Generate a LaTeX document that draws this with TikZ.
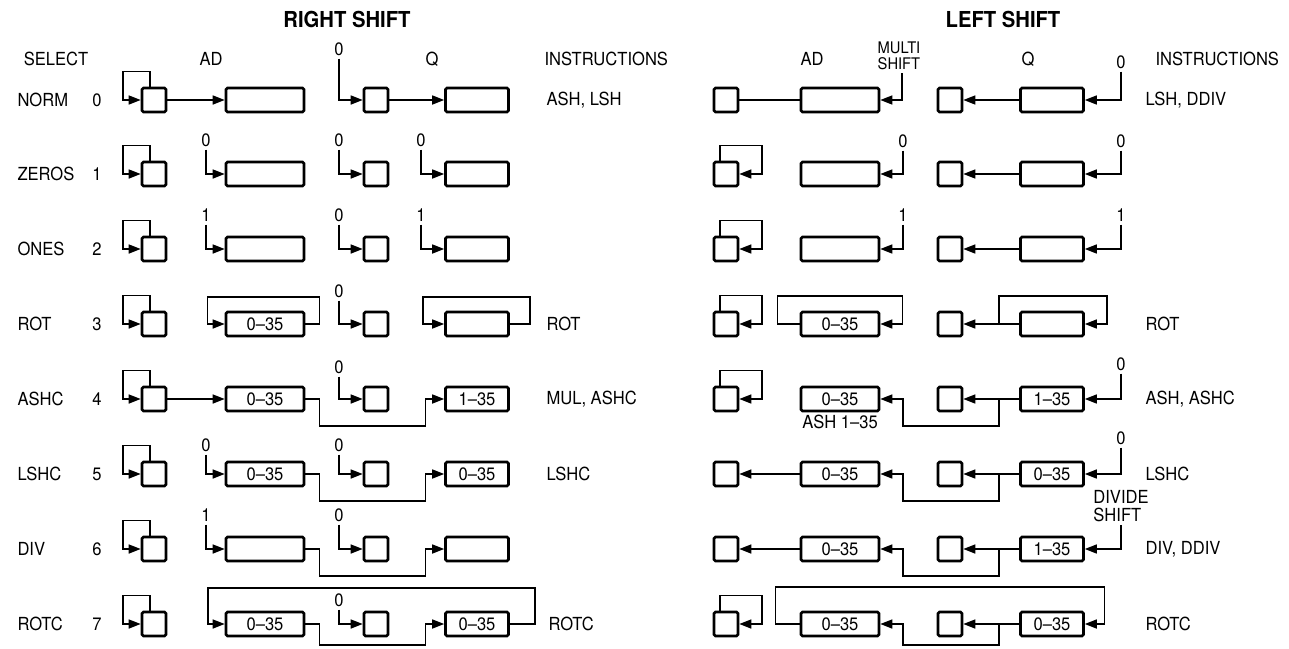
\documentclass[tikz,border=0pt]{standalone}
\usepackage{fontspec}
\setmainfont{TeX Gyre Heros}[FakeStretch=0.92]
\usetikzlibrary{arrows.meta}

\begin{document}
\begin{tikzpicture}[x=1pt,y=-1pt,>={Triangle[length=12pt,width=9pt]},
  every node/.style={font=\fontsize{18}{18}\selectfont},
  reg/.style={draw,line width=2.6pt,rounded corners=1.5pt,minimum width=78pt,minimum height=24pt,inner sep=0pt},
  qreg/.style={reg,minimum width=63pt},
  bit/.style={reg,minimum width=24pt},
  lbl/.style={inner sep=3pt},
  ttl/.style={font=\fontsize{22}{24}\selectfont\bfseries},
  wire/.style={line width=1.5pt}]
\useasboundingbox (0,0) rectangle (1289,648);
\node[ttl] (rtitle) at (347,19) {RIGHT SHIFT};
\node[ttl] (ltitle) at (1003,19) {LEFT SHIFT};
\node (hsel) at (56,59) {SELECT}; \node (hrad) at (211,59) {AD}; \node (hrq) at (432,59) {Q};
\node[anchor=west] (hrins) at (541,59) {INSTRUCTIONS};
\node (hlad) at (812,59) {AD}; \node (hlq) at (1028,59) {Q};
\node[anchor=west] (hlins) at (1152,59) {INSTRUCTIONS};
\node[lbl,align=left,font=\fontsize{16}{16}\selectfont] (multi) at (899,56) {MULTI\\SHIFT};

\foreach \i/\sel/\ry/\zy in {0/NORM/100/49,1/ZEROS/174/140,2/ONES/249/215,3/ROT/324/291,4/ASHC/399/367,5/LSHC/474/445,6/DIV/549/515,7/ROTC/624/600}{
  \node[anchor=west] (sel\i) at (14,\ry) {\sel};
  \node (num\i) at (97,\ry) {\i};
  \node[bit] (rx\i) at (154,\ry) {};
  \node[bit] (rqb\i) at (376,\ry) {};
  \node[lbl] (rz\i) at (339,\zy) {0};
  \node[bit] (lx\i) at (726,\ry) {};
  \node[bit] (lqb\i) at (950,\ry) {};
  \draw[wire,->] ([xshift=-4pt]rx\i.north) |- ++(-27,-15) |- (rx\i.west);
  \draw[wire,->] (rz\i) |- (rqb\i);
}
\foreach \i in {1,2,3,4,7}{\draw[wire,->] ([xshift=-6pt]lx\i.north) |- ++(42,-15) |- (lx\i.east);}

\node[reg] (rad0) at (265,100) {}; \node[qreg] (rq0) at (477,100) {};
\draw[wire,->] (rx0)--(rad0); \draw[wire,->] (rqb0)--(rq0);
\node[anchor=west] (rins0) at (543,100) {ASH, LSH};

\node[reg] (rad1) at (265,174) {}; \node[qreg] (rq1) at (477,174) {};
\node[lbl] (ra1) at (206,140) {0}; \node[lbl] (rc1) at (421,140) {0};
\draw[wire,->] (ra1) |- (rad1); \draw[wire,->] (rc1) |- (rq1);

\node[reg] (rad2) at (265,249) {}; \node[qreg] (rq2) at (477,249) {};
\node[lbl] (ra2) at (206,215) {1}; \node[lbl] (rc2) at (421,215) {1};
\draw[wire,->] (ra2) |- (rad2); \draw[wire,->] (rc2) |- (rq2);

\node[reg] (rad3) at (265,324) {0--35}; \node[qreg] (rq3) at (477,324) {};
\draw[wire,->] (rad3.east) -- ++(14,0) |- ++(-112,-27) |- (rad3.west);
\draw[wire,->] (rq3.east) -- ++(20,0) |- ++(-107,-27) |- (rq3.west);
\node[anchor=west] (rins3) at (543,324) {ROT};

\node[reg] (rad4) at (265,399) {0--35}; \node[qreg] (rq4) at (477,399) {1--35};
\draw[wire,->] (rx4)--(rad4);
\draw[wire,->] (rad4.east) -- ++(14,0) |- ++(106,27) |- (rq4.west);
\node[anchor=west] (rins4) at (543,399) {MUL, ASHC};

\node[reg] (rad5) at (265,474) {0--35}; \node[qreg] (rq5) at (477,474) {0--35};
\node[lbl] (ra5) at (206,445) {0};
\draw[wire,->] (ra5) |- (rad5);
\draw[wire,->] (rad5.east) -- ++(14,0) |- ++(106,27) |- (rq5.west);
\node[anchor=west] (rins5) at (543,474) {LSHC};

\node[reg] (rad6) at (265,549) {}; \node[qreg] (rq6) at (477,549) {};
\node[lbl] (ra6) at (206,515) {1};
\draw[wire,->] (ra6) |- (rad6);
\draw[wire,->] (rad6.east) -- ++(14,0) |- ++(106,27) |- (rq6.west);

\node[reg] (rad7) at (265,624) {0--35}; \node[qreg] (rq7) at (477,624) {0--35};
\draw[wire,->] (rq7.east) -- ++(25,0) |- ++(-327,-36) |- (rad7.west);
\draw[wire,->] (rad7.east) -- ++(14,0) |- ++(106,21) |- (rq7.west);
\node[anchor=west] (rins7) at (545,624) {ROTC};

\node[reg] (lad0) at (840,100) {}; \node[qreg] (lq0) at (1052,100) {};
\node[lbl] (lc0) at (1121,62) {0};
\draw[wire] (lx0)--(lad0); \draw[wire,->] ([xshift=3pt]multi.south) |- (lad0.east);
\draw[wire,->] (lq0)--(lqb0); \draw[wire,->] (lc0) |- (lq0);
\node[anchor=west] (lins0) at (1142,100) {LSH, DDIV};

\node[reg] (lad1) at (840,174) {}; \node[qreg] (lq1) at (1052,174) {};
\node[lbl] (la1) at (903,141) {0}; \node[lbl] (lc1) at (1121,141) {0};
\draw[wire,->] (la1) |- (lad1); \draw[wire,->] (lq1)--(lqb1); \draw[wire,->] (lc1) |- (lq1);

\node[reg] (lad2) at (840,249) {}; \node[qreg] (lq2) at (1052,249) {};
\node[lbl] (la2) at (903,215) {1}; \node[lbl] (lc2) at (1121,215) {1};
\draw[wire,->] (la2) |- (lad2); \draw[wire,->] (lq2)--(lqb2); \draw[wire,->] (lc2) |- (lq2);

\node[reg] (lad3) at (840,324) {0--35}; \node[qreg] (lq3) at (1052,324) {};
\draw[wire,->] (lad3.west) -- ++(-22,0) |- ++(125,-28) |- (lad3.east);
\draw[wire,->] (lq3)--(lqb3);
\draw[wire,->] ([xshift=-20pt]lq3.west) |- ++(108,-28) |- (lq3.east);
\node[anchor=west] (lins3) at (1142,324) {ROT};

\node[reg] (lad4) at (840,399) {0--35}; \node[qreg] (lq4) at (1052,399) {1--35};
\node (lash) at (840,422) {ASH 1--35};
\node[lbl] (lc4) at (1121,364) {0};
\draw[wire,->] (lq4)--(lqb4); \draw[wire,->] (lc4) |- (lq4);
\draw[wire,->] ([xshift=-20pt]lq4.west) |- ++(-96,27) |- (lad4.east);
\node[anchor=west] (lins4) at (1142,399) {ASH, ASHC};

\node[reg] (lad5) at (840,474) {0--35}; \node[qreg] (lq5) at (1052,474) {0--35};
\node[lbl] (lc5) at (1121,438) {0};
\draw[wire,->] (lad5)--(lx5);
\draw[wire,->] (lq5)--(lqb5); \draw[wire,->] (lc5) |- (lq5);
\draw[wire,->] ([xshift=-20pt]lq5.west) |- ++(-96,27) |- (lad5.east);
\node[anchor=west] (lins5) at (1142,474) {LSHC};

\node[reg] (lad6) at (840,549) {0--35}; \node[qreg] (lq6) at (1052,549) {1--35};
\node[lbl,align=left] (divsh) at (1121,506) {DIVIDE\\SHIFT};
\draw[wire,->] (lad6)--(lx6);
\draw[wire,->] (lq6)--(lqb6); \draw[wire,->] (divsh.south) |- (lq6.east);
\draw[wire,->] ([xshift=-20pt]lq6.west) |- ++(-96,27) |- (lad6.east);
\node[anchor=west] (lins6) at (1142,549) {DIV, DDIV};

\node[reg] (lad7) at (840,624) {0--35}; \node[qreg] (lq7) at (1052,624) {0--35};
\draw[wire,->] (lad7.west) -- ++(-24,0) |- ++(329,-37) |- (lq7.east);
\draw[wire,->] (lq7)--(lqb7);
\draw[wire,->] ([xshift=-20pt]lq7.west) |- ++(-96,21) |- (lad7.east);
\node[anchor=west] (lins7) at (1142,624) {ROTC};
\end{tikzpicture}
\end{document}
